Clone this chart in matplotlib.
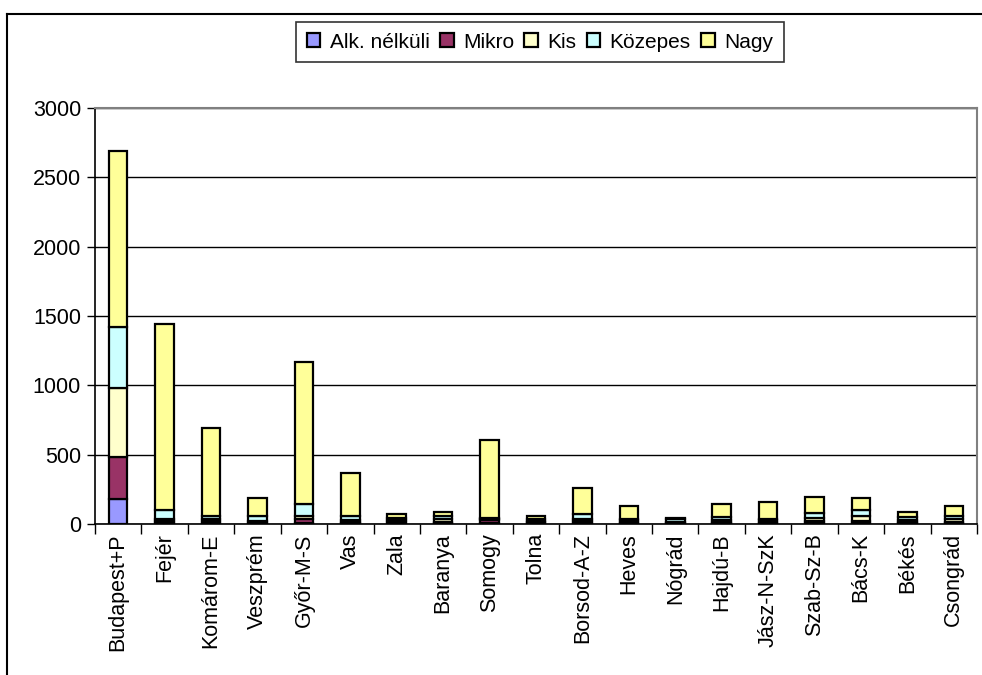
import matplotlib
matplotlib.use("Agg")
import matplotlib.pyplot as plt
import numpy as np
from matplotlib.lines import Line2D

plt.rcParams['font.family'] = ['Liberation Sans', 'DejaVu Sans']

categories = ["Budapest+P", "Fejér", "Komárom-E", "Veszprém", "Győr-M-S", "Vas", "Zala",
              "Baranya", "Somogy", "Tolna", "Borsod-A-Z", "Heves", "Nógrád", "Hajdú-B",
              "Jász-N-SzK", "Szab-Sz-B", "Bács-K", "Békés", "Csongrád"]

alk_nelkuli = [180, 5, 5, 3, 10, 5, 3, 5, 8, 5, 5, 5, 3, 5, 5, 7, 5, 5, 5]
mikro       = [305, 15, 15, 7, 25, 10, 8, 12, 20, 12, 15, 12, 5, 10, 12, 15, 15, 10, 12]
kis         = [493, 15, 16, 10, 22, 14, 17, 17, 10, 8, 14, 10, 7, 14, 10, 23, 35, 14, 19]
kozepes     = [445, 66, 22, 38, 85, 30, 17, 24, 7, 8, 38, 8, 22, 24, 7, 32, 48, 24, 22]
nagy        = [1269, 1339, 632, 127, 1028, 306, 25, 29, 561, 25, 188, 95, 5, 91, 127, 120, 82, 33, 72]

series = [("Alk. nélküli", alk_nelkuli, "#9999FF"),
          ("Mikro", mikro, "#993366"),
          ("Kis", kis, "#FFFFCC"),
          ("Közepes", kozepes, "#CCFFFF"),
          ("Nagy", nagy, "#FFFF99")]

W, H = 982, 675
fig = plt.figure(figsize=(W / 100, H / 100), dpi=100)
ax = fig.add_axes([95 / W, 1 - 524 / H, (977 - 95) / W, (524 - 108) / H])

x = np.arange(len(categories))
bottom = np.zeros(len(categories))
handles = []
for name, vals, col in series:
    vals = np.array(vals, dtype=float)
    b = ax.bar(x, vals, width=0.4, bottom=bottom, color=col, edgecolor="black",
               linewidth=1.6, label=name, zorder=3)
    bottom += vals
    handles.append(b)

ax.set_xlim(-0.5, len(categories) - 0.5)
ax.set_ylim(0, 3000)
ax.set_yticks(np.arange(0, 3001, 500))
ax.tick_params(axis='y', labelsize=15.5, length=6, width=1, direction='out', pad=4)
ax.yaxis.grid(True, color='black', linewidth=1, zorder=0)
ax.set_axisbelow(True)

ax.set_xticks(np.arange(-0.5, len(categories), 1.0))
ax.set_xticklabels([])
ax.tick_params(axis='x', length=7, width=1, direction='out')
for i, c in enumerate(categories):
    ax.text(i, -0.022, c, transform=ax.get_xaxis_transform(), rotation=90,
            ha='center', va='top', fontsize=15.5)

ax.spines['left'].set_color('black')
ax.spines['bottom'].set_color('black')
ax.spines['left'].set_linewidth(1.2)
ax.spines['bottom'].set_linewidth(1.2)
ax.spines['top'].set_color('#808080')
ax.spines['right'].set_color('#808080')
ax.spines['top'].set_linewidth(1.5)
ax.spines['right'].set_linewidth(1.5)

leg = fig.legend(handles=handles, loc='center', bbox_to_anchor=(540 / W, 1 - 42 / H),
                 ncol=5, fontsize=15, frameon=True, fancybox=False, edgecolor='black',
                 handlelength=0.65, handleheight=0.65, handletextpad=0.45,
                 columnspacing=0.5, borderpad=0.5, borderaxespad=0)
leg.get_frame().set_linewidth(1.2)

# outer chart frame
fig.add_artist(Line2D([7 / W, 7 / W], [0, 1 - 14 / H], transform=fig.transFigure,
                      color='black', linewidth=1.5))
fig.add_artist(Line2D([7 / W, 1], [1 - 14 / H, 1 - 14 / H], transform=fig.transFigure,
                      color='black', linewidth=1.5))

fig.savefig("out.png", dpi=100)
